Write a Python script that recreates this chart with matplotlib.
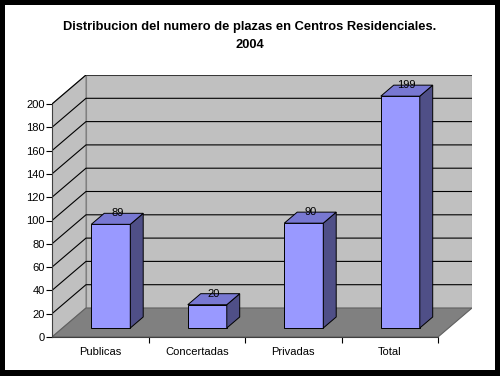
import matplotlib.pyplot as plt
from matplotlib.patches import Polygon, Rectangle

categorias = ["Publicas", "Concertadas", "Privadas", "Total"]
plazas = [89, 20, 90, 199]
yticks = list(range(0, 201, 20))

W, H = 500, 376
fig = plt.figure(figsize=(W / 100, H / 100), dpi=100)
fig.patch.set_facecolor("black")
fig.add_artist(Rectangle((5 / W, 6 / H), 490 / W, 365 / H, transform=fig.transFigure,
                         facecolor="white", edgecolor="none", zorder=0))

fig.text(0.5, 1 - 27 / H, "Distribucion del numero de plazas en Centros Residenciales.",
         ha="center", va="center", fontsize=9.3, fontweight="bold", family="Liberation Sans")
fig.text(0.5, 1 - 45 / H, "2004", ha="center", va="center", fontsize=9.3,
         fontweight="bold", family="Liberation Sans")

# front plane: x 52..438 px, y(0)=337 px, y(200)=104 px; depth offset 34 px right, 29 px up
px_cat = (438 - 52) / 4
px_val = (337 - 104) / 200
DX = 34 / px_cat
DY = 29 / px_val
x0, x1 = 52, 52 + (4 + DX) * px_cat
y0, y1 = 337, 337 - (200 + DY) * px_val
ax = fig.add_axes([x0 / W, 1 - y0 / H, (x1 - x0) / W, (y0 - y1) / H])
ax.set_xlim(0, 4 + DX)
ax.set_ylim(0, 200 + DY)
ax.patch.set_visible(False)

grid = "#000000"
wall = "#C0C0C0"
floor = "#808080"

# back wall
ax.add_patch(Polygon([(DX, DY), (4 + DX, DY), (4 + DX, 200 + DY), (DX, 200 + DY)],
                     facecolor=wall, edgecolor="#808080", lw=0.8, zorder=1))
# side wall
ax.add_patch(Polygon([(0, 0), (DX, DY), (DX, 200 + DY), (0, 200)],
                     facecolor=wall, edgecolor="#808080", lw=0.8, zorder=1))
# floor
ax.add_patch(Polygon([(0, 0), (4, 0), (4 + DX, DY), (DX, DY)],
                     facecolor=floor, edgecolor="#606060", lw=0.8, zorder=1))
for v in yticks[1:]:
    ax.plot([0, DX, 4 + DX], [v, v + DY, v + DY], color=grid, lw=0.8, zorder=2)

# bars
f0, f1 = 0.31, 0.69
bw = 0.404
front = "#9999FF"
top = "#7878D2"
side = "#4F4F87"
for i, v in enumerate(plazas):
    cx = i + 0.5 + f0 * DX
    xa, xb = cx - bw / 2, cx + bw / 2
    ya, yb = f0 * DY, v + f0 * DY
    ddx, ddy = (f1 - f0) * DX, (f1 - f0) * DY
    ax.add_patch(Polygon([(xa, ya), (xb, ya), (xb, yb), (xa, yb)],
                         facecolor=front, edgecolor="black", lw=0.7, zorder=3))
    ax.add_patch(Polygon([(xb, ya), (xb + ddx, ya + ddy), (xb + ddx, yb + ddy), (xb, yb)],
                         facecolor=side, edgecolor="black", lw=0.7, zorder=3))
    ax.add_patch(Polygon([(xa, yb), (xb, yb), (xb + ddx, yb + ddy), (xa + ddx, yb + ddy)],
                         facecolor=top, edgecolor="black", lw=0.7, zorder=3))
    ax.text(cx + ddx / 2, yb + ddy, str(v), ha="center", va="center", fontsize=8,
            family="Liberation Sans", zorder=4)

for s in ["top", "right"]:
    ax.spines[s].set_visible(False)
ax.spines["left"].set_bounds(0, 200)
ax.spines["bottom"].set_bounds(0, 4)
ax.spines["left"].set_linewidth(0.8)
ax.spines["bottom"].set_linewidth(0.8)
ax.spines["left"].set_color("#404040")
ax.spines["bottom"].set_color("#404040")
ax.set_yticks(yticks)
ax.set_yticklabels([str(v) for v in yticks], fontsize=8, family="Liberation Sans")
ax.tick_params(axis="y", length=4, width=0.8, pad=1)
ax.set_xticks([1, 2, 3, 4])
ax.set_xticklabels([])
ax.set_xticks([i + 0.5 for i in range(4)], minor=True)
ax.set_xticklabels(categorias, minor=True, fontsize=8, family="Liberation Sans")
ax.tick_params(axis="x", which="major", length=4, width=0.8)
ax.tick_params(axis="x", which="minor", length=0, pad=7)

fig.savefig("out.png", dpi=100)
